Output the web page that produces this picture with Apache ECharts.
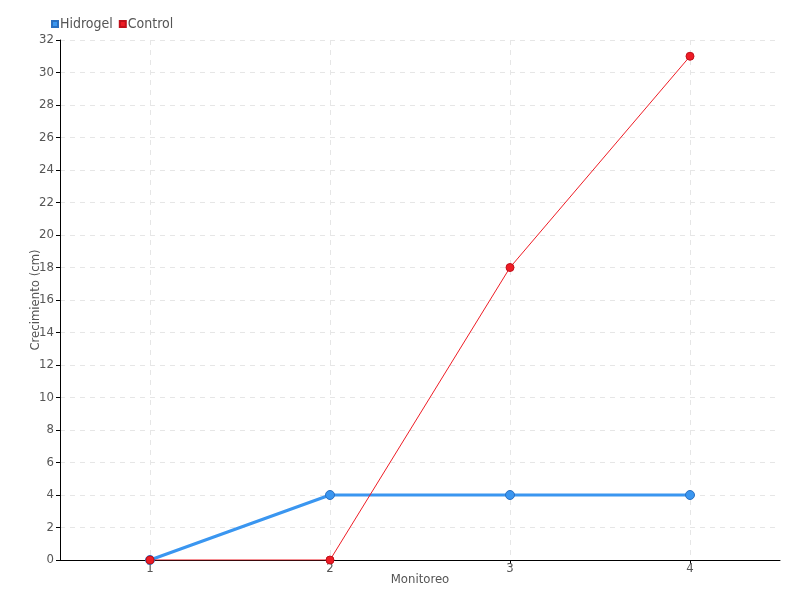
<!DOCTYPE html>
<html><head><meta charset="utf-8">
<script src="https://cdn.jsdelivr.net/npm/echarts@6/dist/echarts.min.js"></script>
<style>html,body{margin:0;padding:0;background:#fff}#c{width:800px;height:600px}</style>
</head><body><div id="c"></div>
<script>
const categories = [1, 2, 3, 4];
const hidrogel = [0, 4, 4, 4];
const control = [0, 0, 18, 31];
const yTicks = [0, 2, 4, 6, 8, 10, 12, 14, 16, 18, 20, 22, 24, 26, 28, 30, 32];

const font = 'DejaVu Sans Condensed';
const chart = echarts.init(document.getElementById('c'));
chart.setOption({
  animation: false,
  textStyle: { fontFamily: font },
  legend: {
    left: 46, top: 12, itemWidth: 6, itemHeight: 6, itemGap: 6,
    icon: 'rect',
    textStyle: { fontFamily: font, fontSize: 14, color: '#555', padding: [0, 0, 0, -3] },
    data: ['Hidrogel', 'Control']
  },
  grid: { left: 60, right: 20, top: 40, bottom: 40 },
  xAxis: {
    type: 'value', min: 0.5, max: 4.5,
    name: 'Monitoreo', nameLocation: 'middle', nameGap: 13, nameMoveOverlap: false,
    nameTextStyle: { fontFamily: font, fontSize: 13, color: '#555' },
    axisLine: { lineStyle: { color: '#000' } },
    axisTick: { show: true, length: 4, lineStyle: { color: '#000' }, customValues: categories },
    axisLabel: { customValues: categories, color: '#555', fontSize: 13, fontFamily: font, margin: 2 },
    splitLine: { show: true, lineStyle: { color: '#e6e6e6', type: [5, 5] } }
  },
  yAxis: {
    type: 'value', min: 0, max: 32, interval: 2,
    name: 'Crecimiento (cm)', nameLocation: 'middle', nameGap: 18, nameMoveOverlap: false,
    nameTextStyle: { fontFamily: font, fontSize: 13, color: '#555' },
    axisLine: { show: true, lineStyle: { color: '#000' } },
    axisTick: { show: true, length: 4, lineStyle: { color: '#000' } },
    axisLabel: { color: '#555', fontSize: 13, fontFamily: font, margin: 6 },
    splitLine: { show: true, lineStyle: { color: '#e6e6e6', type: [5, 5] } }
  },
  series: [
    {
      name: 'Hidrogel', type: 'line',
      data: categories.map((c, i) => [c, hidrogel[i]]),
      symbol: 'circle', symbolSize: 9,
      itemStyle: { color: '#3a96f0', borderColor: '#2a6fc0', borderWidth: 1 },
      lineStyle: { color: '#3a96f0', width: 3 }
    },
    {
      name: 'Control', type: 'line',
      data: categories.map((c, i) => [c, control[i]]),
      symbol: 'circle', symbolSize: 8,
      itemStyle: { color: '#ee1c25', borderColor: '#c0101a', borderWidth: 1 },
      lineStyle: { color: '#ee1c25', width: 1 }
    }
  ]
});
</script></body></html>
